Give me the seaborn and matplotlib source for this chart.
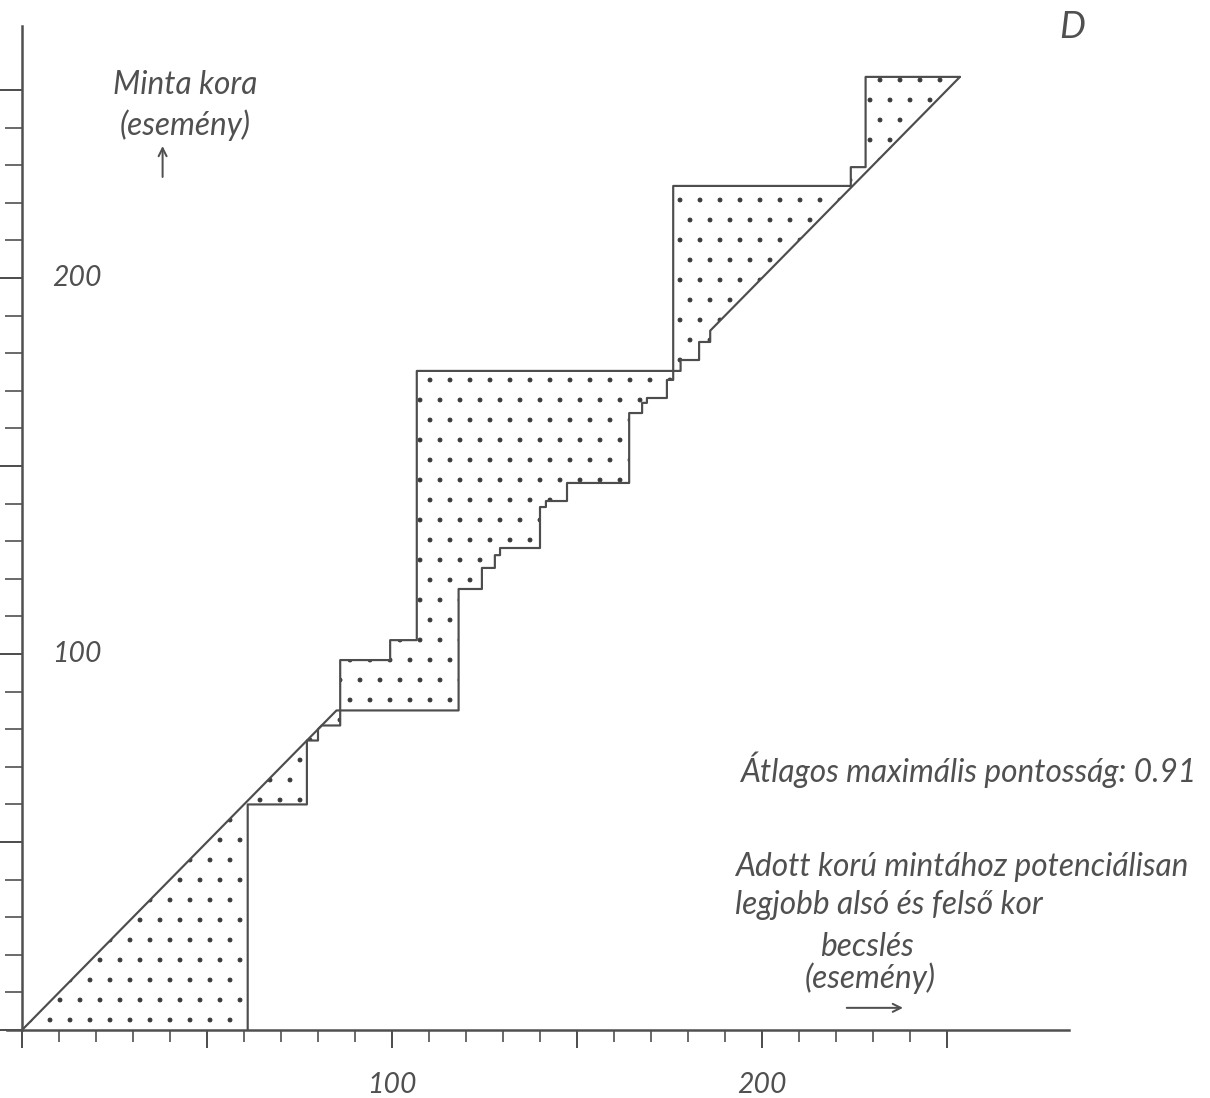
import matplotlib
matplotlib.use("Agg")
import matplotlib.pyplot as plt
import seaborn as sns
import pandas as pd
from matplotlib.ticker import FixedLocator

# minta kora (esemény) és a hozzá tartozó legjobb alsó / felső becslés
age = [0, 60, 60, 77, 77, 80, 81, 81, 85, 85, 98.4, 98.4, 103.7, 103.7,
       117.3, 117.3, 122.9, 122.9, 126.3, 126.3, 128.2, 128.2, 139.1, 139.1,
       140.7, 140.7, 145.5, 145.5, 164.1, 164.1, 166.8, 166.8, 168.1, 168.1,
       172.9, 172.9, 175.3, 175.3, 178.2, 178.2, 183, 183, 186, 224.5, 224.5,
       229.5, 229.5, 253.5, 253.5]
low = [0, 60, 60, 77, 77, 80, 81, 81, 85, 86, 86, 99.5, 99.5, 106.7,
       106.7, 106.7, 106.7, 106.7, 106.7, 106.7, 106.7, 106.7, 106.7, 106.7,
       106.7, 106.7, 106.7, 106.7, 106.7, 106.7, 106.7, 106.7, 106.7, 106.7,
       106.7, 106.7, 106.7, 176, 176, 176, 176, 176, 176, 176, 224,
       224, 228, 228, 253.5]
high = [61, 61, 77, 77, 80, 80, 81, 86, 86, 118, 118, 118, 118, 118,
        118, 124.3, 124.3, 127.8, 127.8, 129.2, 129.2, 140, 140, 141.6,
        141.6, 147.3, 147.3, 164.1, 164.1, 167.6, 167.6, 168.9, 168.9, 174.3,
        174.3, 176, 176, 178, 178, 183, 183, 186, 186, 224.5, 224.5,
        229.5, 229.5, 253.5, 253.5]

x_major = [0, 50, 100, 150, 200, 250]
x_labels = ['', '', '100', '', '200', '']
y_major = [0, 50, 100, 150, 200, 250]
y_labels = ['', '', '100', '', '200', '']
minor_ticks = list(range(0, 251, 10))

df = pd.DataFrame({'age': age, 'low': low, 'high': high})

sns.set_theme(style='white')
plt.rcParams['font.family'] = ['Lato', 'DejaVu Sans']
plt.rcParams['hatch.linewidth'] = 0.5
pencil = '#4d4d4d'
ink = '#505050'

fig = plt.figure(figsize=(1210 / 120, 1098 / 120), dpi=120)
ax = fig.add_axes([0.00595, 0.0619, 0.8776, 0.9143])

# pontozott terület
ax.fill_betweenx(df['age'], df['low'], df['high'], facecolor='none',
                 hatch='.', edgecolor='#3a3a3a', linewidth=0)
sns.lineplot(data=df, x='low', y='age', sort=False, estimator=None,
             color=pencil, linewidth=1.3, ax=ax)
sns.lineplot(data=df, x='high', y='age', sort=False, estimator=None,
             color=pencil, linewidth=1.3, ax=ax)

ax.set_xlim(-4, 283)
ax.set_ylim(0, 267)
ax.spines['top'].set_visible(False)
ax.spines['right'].set_visible(False)
ax.spines['left'].set_position(('data', 0))
for s in ['left', 'bottom']:
    ax.spines[s].set_color(ink)
    ax.spines[s].set_linewidth(1.5)

ax.set_xticks(x_major, labels=x_labels)
ax.set_yticks(y_major, labels=y_labels)
ax.xaxis.set_minor_locator(FixedLocator(minor_ticks))
ax.yaxis.set_minor_locator(FixedLocator(minor_ticks))
ax.tick_params(axis='x', which='major', direction='out', length=11, width=1.2,
               color=ink, pad=14, labelsize=17, labelcolor=ink)
ax.tick_params(axis='x', which='minor', direction='out', length=7, width=1.0, color=ink)
ax.tick_params(axis='y', which='major', direction='out', length=15, width=1.2,
               color=ink, pad=-33, labelsize=17, labelcolor=ink)
ax.tick_params(axis='y', which='minor', direction='out', length=10, width=1.0, color=ink)
ax.tick_params(bottom=True, left=True, which='both')
for lab in ax.get_yticklabels():
    lab.set_horizontalalignment('left')
    lab.set_verticalalignment('center')
for lab in ax.get_xticklabels() + ax.get_yticklabels():
    lab.set_fontstyle('italic')
ax.set_xlabel('')
ax.set_ylabel('')

txt = dict(color=ink, fontstyle='italic')
ax.text(44, 251.3, 'Minta kora', ha='center', va='center', fontsize=19, **txt)
ax.text(44, 240.7, '(esemény)', ha='center', va='center', fontsize=19, **txt)
ax.annotate('', xy=(38, 236), xytext=(38, 226),
            arrowprops=dict(arrowstyle='->', color=ink, lw=1.2))

ax.text(194, 69.1, 'Átlagos maximális pontosság: 0.91', ha='left', va='center',
        fontsize=19, **txt)
ax.text(192.7, 43.4, 'Adott korú mintához potenciálisan', ha='left', va='center',
        fontsize=19, **txt)
ax.text(192.7, 33.2, 'legjobb alsó és felső kor', ha='left', va='center',
        fontsize=19, **txt)
ax.text(215.7, 22.1, 'becslés', ha='left', va='center', fontsize=19, **txt)
ax.text(211.6, 13.8, '(esemény)', ha='left', va='center', fontsize=19, **txt)
ax.annotate('', xy=(239, 5.9), xytext=(222, 5.9),
            arrowprops=dict(arrowstyle='->', color=ink, lw=1.2))

fig.text(1072 / 1210, 1 - 27 / 1098, 'D', ha='center', va='center',
         color=ink, fontsize=22, fontstyle='italic')

fig.savefig('out.png', dpi=120, facecolor='white')
